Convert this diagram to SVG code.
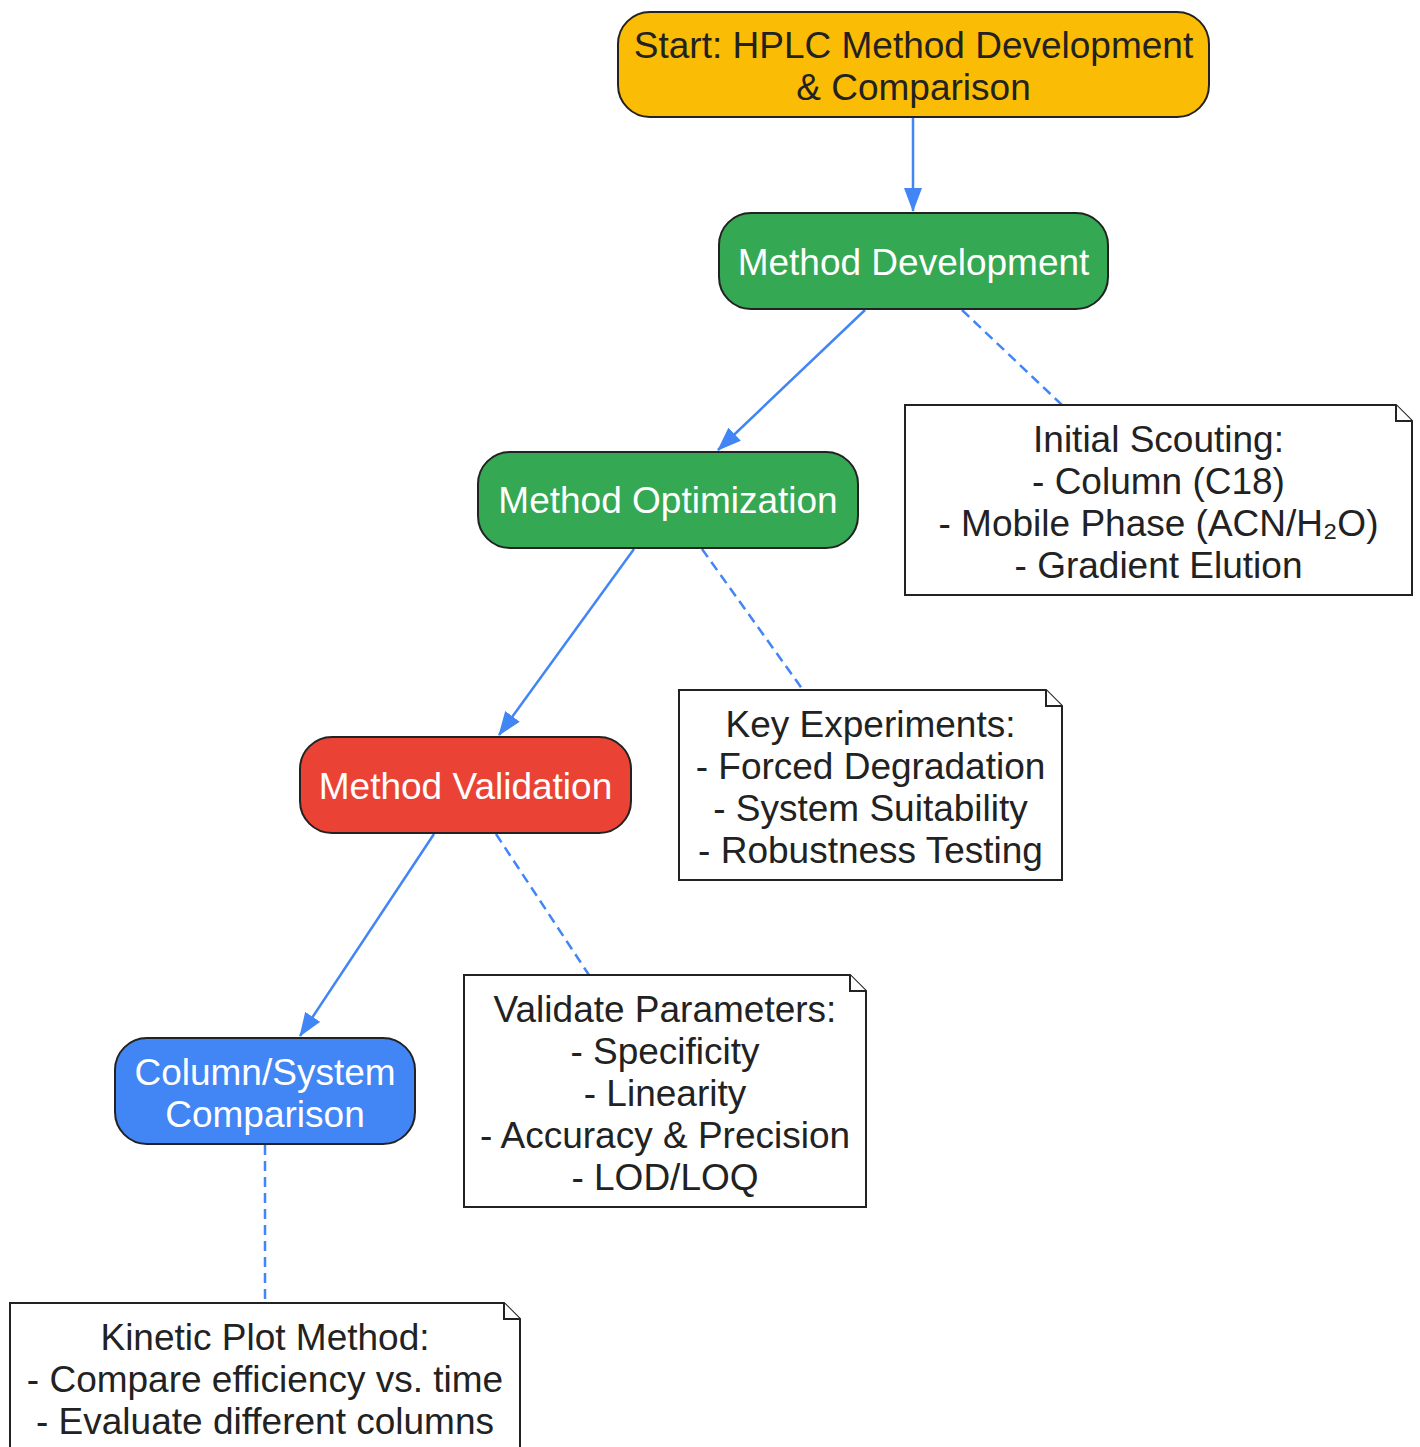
<svg xmlns="http://www.w3.org/2000/svg" width="1420" height="1447" viewBox="0 0 1420 1447">
<defs>
<marker id="arr" viewBox="0 0 24 18" refX="23" refY="9" markerWidth="24" markerHeight="18" markerUnits="userSpaceOnUse" orient="auto">
<path d="M0,0 L24,9 L0,18 Z" fill="#4285F4"/>
</marker>
<style>
.node{stroke:#222;stroke-width:2}
.note{fill:#fff;stroke:#222;stroke-width:2}
.t{font-family:"Liberation Sans",Arial,sans-serif;font-size:37px;text-anchor:middle;fill:#222}
.w{fill:#fff}
.e{fill:none;stroke:#4285F4;stroke-width:2.5}
.d{stroke-dasharray:10,6}
</style>
</defs>
<rect width="1420" height="1447" fill="#fff"/>
<g id="connectors">
<line class="e" x1="913" y1="118" x2="913" y2="211" marker-end="url(#arr)"/>
<line class="e" x1="865" y1="310" x2="718" y2="450" marker-end="url(#arr)"/>
<line class="e d" x1="962" y1="310" x2="1062" y2="405"/>
<line class="e" x1="634" y1="549" x2="499" y2="735" marker-end="url(#arr)"/>
<line class="e d" x1="702" y1="549" x2="803" y2="690"/>
<line class="e" x1="434" y1="834" x2="300" y2="1036" marker-end="url(#arr)"/>
<line class="e d" x1="496" y1="834" x2="589" y2="975"/>
<line class="e d" x1="265" y1="1145" x2="265" y2="1303"/>
</g>
<g id="start">
<rect class="node" x="618" y="12" width="591" height="105" rx="32" fill="#FBBC05"/>
<text class="t" x="913.5" y="58">Start: HPLC Method Development</text>
<text class="t" x="913.5" y="100">&amp; Comparison</text>
</g>
<g id="method-development">
<rect class="node" x="719" y="213" width="389" height="96" rx="32" fill="#34A853"/>
<text class="t w" x="913.5" y="275">Method Development</text>
</g>
<g id="method-optimization">
<rect class="node" x="478" y="452" width="380" height="96" rx="32" fill="#34A853"/>
<text class="t w" x="668" y="513">Method Optimization</text>
</g>
<g id="method-validation">
<rect class="node" x="300" y="737" width="331" height="96" rx="32" fill="#EA4335"/>
<text class="t w" x="465.5" y="799">Method Validation</text>
</g>
<g id="comparison">
<rect class="node" x="115" y="1038" width="300" height="106" rx="32" fill="#4285F4"/>
<text class="t w" x="265" y="1085">Column/System</text>
<text class="t w" x="265" y="1127">Comparison</text>
</g>
<g id="note-scouting">
<path class="note" d="M905,405 H1396 L1412,421 V595 H905 Z"/>
<path class="note" d="M1396,405 V421 H1412"/>
<text class="t" x="1158.5" y="452">Initial Scouting:</text>
<text class="t" x="1158.5" y="494">- Column (C18)</text>
<text class="t" x="1158.5" y="536">- Mobile Phase (ACN/H₂O)</text>
<text class="t" x="1158.5" y="578">- Gradient Elution</text>
</g>
<g id="note-experiments">
<path class="note" d="M679,690 H1046 L1062,706 V880 H679 Z"/>
<path class="note" d="M1046,690 V706 H1062"/>
<text class="t" x="870.5" y="737">Key Experiments:</text>
<text class="t" x="870.5" y="779">- Forced Degradation</text>
<text class="t" x="870.5" y="821">- System Suitability</text>
<text class="t" x="870.5" y="863">- Robustness Testing</text>
</g>
<g id="note-validate">
<path class="note" d="M464,975 H850 L866,991 V1207 H464 Z"/>
<path class="note" d="M850,975 V991 H866"/>
<text class="t" x="665" y="1022">Validate Parameters:</text>
<text class="t" x="665" y="1064">- Specificity</text>
<text class="t" x="665" y="1106">- Linearity</text>
<text class="t" x="665" y="1148">- Accuracy &amp; Precision</text>
<text class="t" x="665" y="1190">- LOD/LOQ</text>
</g>
<g id="note-kinetic">
<path class="note" d="M10,1303 H504 L520,1319 V1470 H10 Z"/>
<path class="note" d="M504,1303 V1319 H520"/>
<text class="t" x="265" y="1350">Kinetic Plot Method:</text>
<text class="t" x="265" y="1392">- Compare efficiency vs. time</text>
<text class="t" x="265" y="1434">- Evaluate different columns</text>
</g>
</svg>
